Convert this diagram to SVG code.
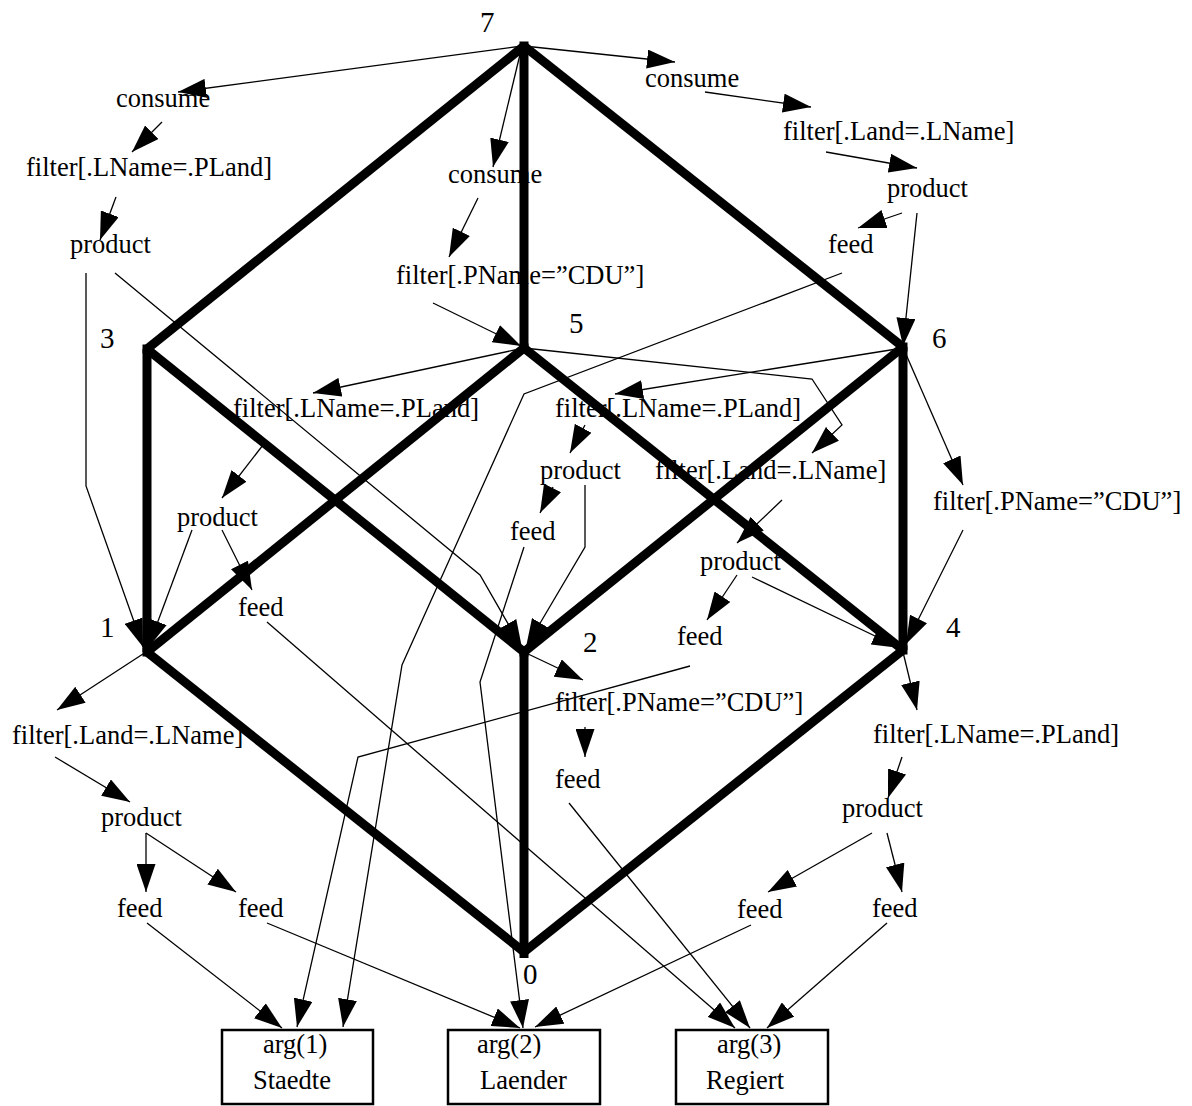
<svg xmlns="http://www.w3.org/2000/svg" width="1192" height="1106" viewBox="0 0 1192 1106">
<style>
.t{font-family:"Liberation Serif","Times New Roman",serif;font-size:26.5px;fill:#000}
.n{font-family:"Liberation Serif","Times New Roman",serif;font-size:29px;fill:#000}
.e{stroke:#000;stroke-width:9;fill:none}
.c{stroke:#000;stroke-width:1.3;fill:none;marker-end:url(#ah)}
.b{fill:#fff;stroke:#000;stroke-width:2.5}
</style>
<defs>
<marker id="ah" markerUnits="userSpaceOnUse" markerWidth="28" markerHeight="19" viewBox="0 0 28 19" refX="28" refY="9.5" orient="auto">
<path d="M0,0 L28,9.5 L0,19 z" fill="#000"/>
</marker>
</defs>
<rect width="1192" height="1106" fill="#fff"/>
<g id="cube">
<line class="e" x1="524" y1="46" x2="147" y2="349"/>
<line class="e" x1="524" y1="46" x2="524" y2="348"/>
<line class="e" x1="524" y1="46" x2="903" y2="347"/>
<line class="e" x1="147" y1="349" x2="147" y2="652"/>
<line class="e" x1="147" y1="349" x2="524" y2="652"/>
<line class="e" x1="524" y1="348" x2="147" y2="652"/>
<line class="e" x1="524" y1="348" x2="903" y2="650"/>
<line class="e" x1="903" y1="347" x2="524" y2="652"/>
<line class="e" x1="903" y1="347" x2="903" y2="650"/>
<line class="e" x1="147" y1="652" x2="524" y2="952"/>
<line class="e" x1="524" y1="652" x2="524" y2="952"/>
<line class="e" x1="903" y1="650" x2="524" y2="952"/>
<g fill="#000">
<rect x="519.5" y="41.5" width="9" height="9"/>
<rect x="142.5" y="344.5" width="9" height="9"/>
<rect x="519.5" y="343.5" width="9" height="9"/>
<rect x="898.5" y="342.5" width="9" height="9"/>
<rect x="142.5" y="647.5" width="9" height="9"/>
<rect x="519.5" y="647.5" width="9" height="9"/>
<rect x="898.5" y="645.5" width="9" height="9"/>
<rect x="519.5" y="949" width="9" height="9"/>
</g>
</g>
<g id="vertex-labels">
<text class="n" x="480" y="32">7</text>
<text class="n" x="100" y="348">3</text>
<text class="n" x="569" y="333">5</text>
<text class="n" x="932" y="348">6</text>
<text class="n" x="100" y="637">1</text>
<text class="n" x="583" y="652">2</text>
<text class="n" x="946" y="637">4</text>
<text class="n" x="523" y="984">0</text>
</g>
<g id="connectors">
<path class="c" d="M522,46 L178,92"/>
<path class="c" d="M162,122 L132,152"/>
<path class="c" d="M116,197 L100,240"/>
<path class="c" d="M86,273 L86,486 L143,647"/>
<path class="c" d="M115,273 L480,575 L522,648"/>
<path class="c" d="M522,46 L493,167"/>
<path class="c" d="M478,198 L449,257"/>
<path class="c" d="M433,303 L521,346"/>
<path class="c" d="M524,46 L675,62"/>
<path class="c" d="M705,92 L811,107"/>
<path class="c" d="M826,152 L917,168"/>
<path class="c" d="M902,213 L858,228"/>
<path class="c" d="M917,213 L903,346"/>
<path class="c" d="M842,273 L524,394 L402,665 L343,1027"/>
<path class="c" d="M690,666 L358,757 L297,1027"/>
<path class="c" d="M524,348 L313,393"/>
<path class="c" d="M263,445 L222,498"/>
<path class="c" d="M192,530 L148,648"/>
<path class="c" d="M222,530 L252,590"/>
<path class="c" d="M267,622 L735,1028"/>
<path class="c" d="M524,348 L812,379 L842,425 L812,453"/>
<path class="c" d="M903,348 L615,394"/>
<path class="c" d="M585,425 L570,453"/>
<path class="c" d="M553,487 L540,513"/>
<path class="c" d="M585,485 L585,547 L526,647"/>
<path class="c" d="M524,547 L480,682 L523,1028"/>
<path class="c" d="M782,500 L737,543"/>
<path class="c" d="M737,575 L707,620"/>
<path class="c" d="M752,577 L900,648"/>
<path class="c" d="M905,352 L963,485"/>
<path class="c" d="M963,530 L906,644"/>
<path class="c" d="M526,653 L583,680"/>
<path class="c" d="M585,727 L585,757"/>
<path class="c" d="M569,803 L750,1028"/>
<path class="c" d="M903,652 L917,710"/>
<path class="c" d="M902,757 L888,798"/>
<path class="c" d="M872,833 L768,892"/>
<path class="c" d="M887,833 L902,892"/>
<path class="c" d="M887,923 L767,1028"/>
<path class="c" d="M751,925 L535,1027"/>
<path class="c" d="M267,923 L520,1028"/>
<path class="c" d="M147,923 L282,1028"/>
<path class="c" d="M146,833 L146,892"/>
<path class="c" d="M146,833 L236,892"/>
<path class="c" d="M55,757 L130,802"/>
<path class="c" d="M146,652 L57,710"/>
</g>
<g id="n-consume-l"><text class="t" x="116" y="107">consume</text></g>
<g id="n-filter-l1"><text class="t" x="26" y="176">filter[.LName=.PLand]</text></g>
<g id="n-product-l1"><text class="t" x="70" y="253">product</text></g>
<g id="n-consume-r"><text class="t" x="645" y="87">consume</text></g>
<g id="n-filter-r1"><text class="t" x="783" y="140">filter[.Land=.LName]</text></g>
<g id="n-product-r1"><text class="t" x="887" y="197">product</text></g>
<g id="n-feed-r1"><text class="t" x="828" y="253">feed</text></g>
<g id="n-consume-m"><text class="t" x="448" y="183">consume</text></g>
<g id="n-filter-m1"><text class="t" x="396" y="284">filter[.PName=”CDU”]</text></g>
<g id="n-filter-3"><text class="t" x="233" y="417">filter[.LName=.PLand]</text></g>
<g id="n-product-3"><text class="t" x="177" y="526">product</text></g>
<g id="n-feed-3"><text class="t" x="238" y="616">feed</text></g>
<g id="n-filter-5"><text class="t" x="555" y="417">filter[.LName=.PLand]</text></g>
<g id="n-product-5"><text class="t" x="540" y="479">product</text></g>
<g id="n-feed-5"><text class="t" x="510" y="540">feed</text></g>
<g id="n-filter-5b"><text class="t" x="655" y="479">filter[.Land=.LName]</text></g>
<g id="n-product-5b"><text class="t" x="700" y="570">product</text></g>
<g id="n-feed-5b"><text class="t" x="677" y="645">feed</text></g>
<g id="n-filter-6"><text class="t" x="933" y="510">filter[.PName=”CDU”]</text></g>
<g id="n-filter-1"><text class="t" x="12" y="744">filter[.Land=.LName]</text></g>
<g id="n-product-1"><text class="t" x="101" y="826">product</text></g>
<g id="n-feed-1a"><text class="t" x="117" y="917">feed</text></g>
<g id="n-feed-1b"><text class="t" x="238" y="917">feed</text></g>
<g id="n-filter-2"><text class="t" x="555" y="711">filter[.PName=”CDU”]</text></g>
<g id="n-feed-2"><text class="t" x="555" y="788">feed</text></g>
<g id="n-filter-4"><text class="t" x="873" y="743">filter[.LName=.PLand]</text></g>
<g id="n-product-4"><text class="t" x="842" y="817">product</text></g>
<g id="n-feed-4a"><text class="t" x="737" y="918">feed</text></g>
<g id="n-feed-4b"><text class="t" x="872" y="917">feed</text></g>
<g id="n-arg1"><rect class="b" x="222" y="1030" width="151" height="74"/><text class="t" x="263" y="1053">arg(1)</text><text class="t" x="253" y="1089">Staedte</text></g>
<g id="n-arg2"><rect class="b" x="448" y="1030" width="152" height="74"/><text class="t" x="477" y="1053">arg(2)</text><text class="t" x="480" y="1089">Laender</text></g>
<g id="n-arg3"><rect class="b" x="676" y="1030" width="152" height="74"/><text class="t" x="717" y="1053">arg(3)</text><text class="t" x="706" y="1089">Regiert</text></g>
</svg>
